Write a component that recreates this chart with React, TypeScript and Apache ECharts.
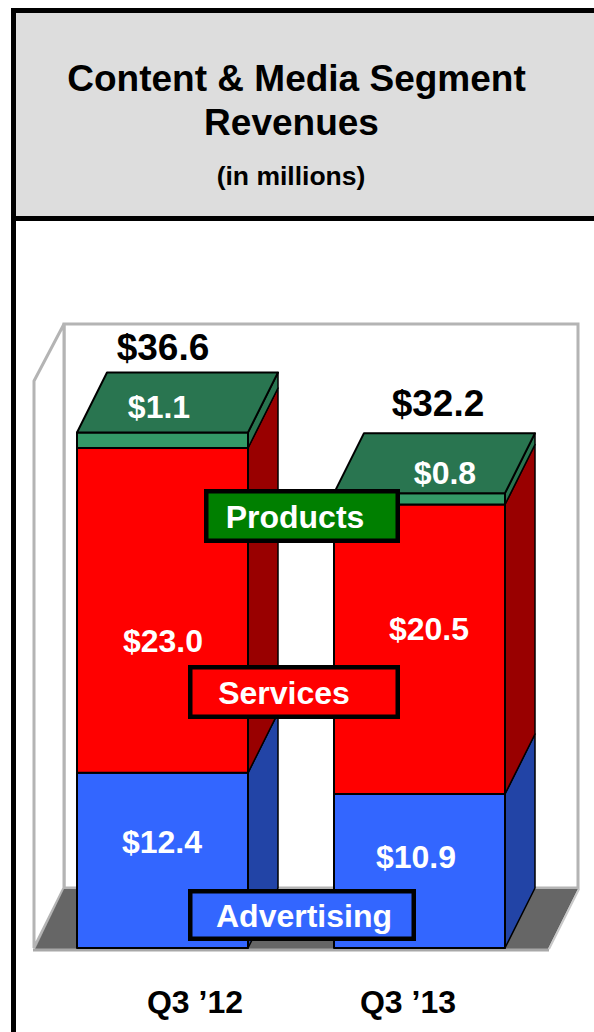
import React, { useEffect, useRef } from "react";
import * as echarts from "echarts";

const categories = ["Q3 ’12", "Q3 ’13"];
const advertising = [12.4, 10.9];
const services = [23.0, 20.5];
const products = [1.1, 0.8];
const totals = [36.6, 32.2];
const legendNames = ["Products", "Services", "Advertising"];
const titleLines = ["Content & Media Segment", "Revenues"];
const subtitle = "(in millions)";

const FONT = '"Liberation Sans", Arial, sans-serif';
const money = (v: number) => "$" + v.toFixed(1);
const DX = 30;
const DY = -60;
const GREY = "#b4b4b4";

function segmentSeries(
  name: string,
  values: number[],
  bases: number[],
  front: string,
  side: string,
  withTop: boolean
) {
  return {
    type: "custom",
    name,
    clip: false,
    z: 3,
    encode: { x: 0, y: [1, 2] },
    data: values.map((v, i) => [i, bases[i], +(bases[i] + v).toFixed(2)]),
    renderItem: (_p: any, api: any) => {
      const i = api.value(0);
      const lo = api.coord([i, api.value(1)]);
      const hi = api.coord([i, api.value(2)]);
      const w = api.size([1, 0])[0] * (171 / 257);
      const l = lo[0] - w / 2;
      const r = lo[0] + w / 2;
      const line = { stroke: "#000", lineWidth: 2, lineJoin: "round" };
      const children: any[] = [
        {
          type: "polygon",
          shape: {
            points: [
              [r, lo[1]],
              [r + DX, lo[1] + DY],
              [r + DX, hi[1] + DY],
              [r, hi[1]],
            ],
          },
          style: { fill: side, ...line, lineWidth: 1.5 },
        },
        {
          type: "rect",
          shape: { x: l, y: hi[1], width: w, height: lo[1] - hi[1] },
          style: { fill: front, ...line },
        },
      ];
      if (withTop) {
        children.push({
          type: "polygon",
          shape: {
            points: [
              [l, hi[1]],
              [l + DX, hi[1] + DY],
              [r + DX, hi[1] + DY],
              [r, hi[1]],
            ],
          },
          style: { fill: side, ...line },
        });
      }
      return { type: "group", children };
    },
  };
}

function label(text: string, cx: number, cy: number, size: number, fill: string, z = 20) {
  return {
    type: "text",
    z,
    x: cx,
    y: cy,
    silent: true,
    style: {
      text,
      fill,
      font: `bold ${size}px ${FONT}`,
      textAlign: "center",
      textVerticalAlign: "middle",
    },
  };
}

function box(text: string, x: number, y: number, w: number, h: number, fill: string, tx: number) {
  return [
    {
      type: "rect",
      z: 15,
      shape: { x: x + 2.25, y: y + 2.25, width: w - 4.5, height: h - 4.5 },
      style: { fill, stroke: "#000", lineWidth: 4.5 },
    },
    label(text, tx, y + h / 2 + 1, 32, "#fff"),
  ];
}

function rect(x: number, y: number, w: number, h: number, fill: string, z = 0) {
  return { type: "rect", z, shape: { x, y, width: w, height: h }, style: { fill } };
}

export default function App() {
  const ref = useRef<HTMLDivElement>(null);
  useEffect(() => {
    document.body.style.margin = "0";
    const chart = echarts.init(ref.current!, undefined, { renderer: "svg" });
    const graphic: any[] = [
      rect(16, 13, 578, 203, "#dddddd"),
      rect(11, 8, 583, 5, "#000"),
      rect(11, 216, 583, 5, "#000"),
      rect(11, 8, 5, 1024, "#000"),
      label(titleLines[0], 296.5, 78, 37, "#000"),
      label(titleLines[1], 291.5, 122, 37, "#000"),
      label(subtitle, 291, 176, 26.5, "#000"),
      // 3-D chart room
      {
        type: "polygon",
        z: 0,
        shape: { points: [[64, 324], [578, 324], [578, 888], [64, 888]] },
        style: { fill: "#fff", stroke: GREY, lineWidth: 3 },
      },
      {
        type: "polygon",
        z: 0,
        shape: { points: [[34, 381], [64, 324], [64, 888], [34, 948]] },
        style: { fill: "#fff", stroke: GREY, lineWidth: 3 },
      },
      {
        type: "polygon",
        z: 1,
        shape: { points: [[35, 949], [64, 889], [578, 889], [548, 949]] },
        style: { fill: "#666666" },
      },
      {
        type: "line",
        z: 1,
        shape: { x1: 33, y1: 950, x2: 549, y2: 950 },
        style: { stroke: "#a8a8a8", lineWidth: 3 },
      },
      {
        type: "line",
        z: 1,
        shape: { x1: 549, y1: 949, x2: 579, y2: 889 },
        style: { stroke: "#c8c8c8", lineWidth: 2 },
      },
      label(money(products[0]), 159, 407, 32, "#fff"),
      label(money(services[0]), 163, 641, 32, "#fff"),
      label(money(advertising[0]), 162, 842, 32, "#fff"),
      label(money(products[1]), 445, 473, 32, "#fff"),
      label(money(services[1]), 429, 629, 32, "#fff"),
      label(money(advertising[1]), 416, 857, 32, "#fff"),
      label(money(totals[0]), 163, 347, 37, "#000"),
      label(money(totals[1]), 438, 403, 37, "#000"),
      label(categories[0], 195, 1002, 32, "#000"),
      label(categories[1], 408, 1002, 32, "#000"),
      ...box(legendNames[0], 204, 489, 196, 54, "#007f00", 295),
      ...box(legendNames[1], 188, 665, 212, 54, "#ff0000", 284),
      ...box(legendNames[2], 188, 889, 228, 52, "#3366ff", 304),
    ];
    const base2 = advertising.map((v, i) => v + services[i]);
    chart.setOption({
      animation: false,
      grid: { left: 34, top: 383, width: 514, height: 565, containLabel: false },
      xAxis: { type: "category", data: categories, show: false },
      yAxis: { type: "value", min: 0, max: 40, show: false },
      graphic: { elements: graphic },
      series: [
        segmentSeries(legendNames[2], advertising, [0, 0], "#3366ff", "#2244a6", false),
        segmentSeries(legendNames[1], services, advertising, "#ff0000", "#990000", false),
        segmentSeries(legendNames[0], products, base2, "#339966", "#297550", true),
      ],
    });
    return () => chart.dispose();
  }, []);
  return <div ref={ref} style={{ width: 594, height: 1032, display: "block" }} />;
}
